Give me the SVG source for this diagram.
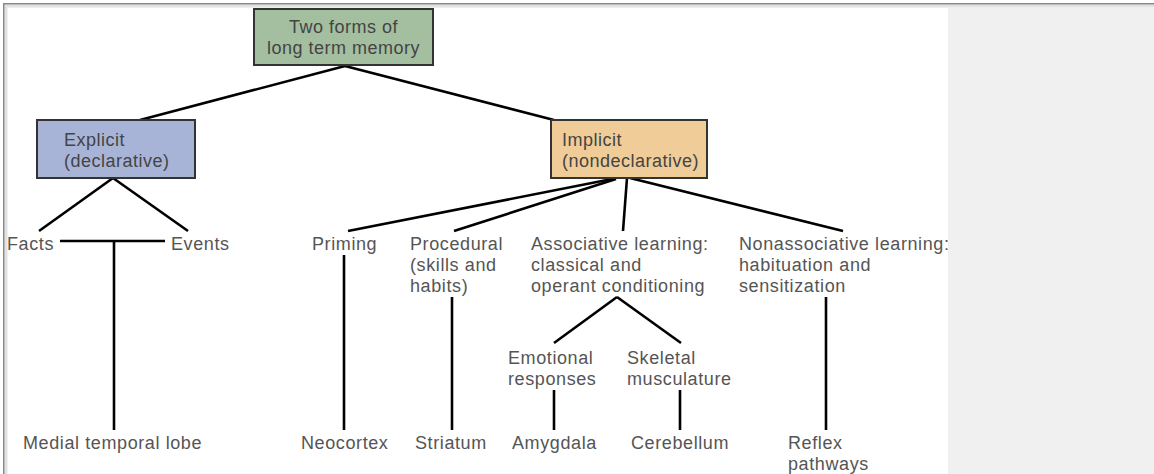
<svg xmlns="http://www.w3.org/2000/svg" width="1154" height="474" viewBox="0 0 1154 474">
<style>
.box{stroke:#333;stroke-width:2}
.bt{font-family:"Liberation Sans",Arial,sans-serif;font-size:18px;letter-spacing:0.5px;fill:#444}
.lb{font-family:"Liberation Sans",Arial,sans-serif;font-size:18px;letter-spacing:0.6px;fill:#555}
#connectors line{stroke:#000;stroke-width:2.6;stroke-linecap:butt}
</style>
<rect x="0" y="0" width="1154" height="474" fill="#fff"/>
<g id="connectors">
<line x1="345" y1="66" x2="140" y2="120"/>
<line x1="345" y1="66" x2="554" y2="120"/>
<line x1="113" y1="178" x2="39" y2="231"/>
<line x1="113" y1="178" x2="188" y2="231"/>
<line x1="60" y1="241" x2="165" y2="241"/>
<line x1="114" y1="241" x2="114" y2="430"/>
<line x1="612" y1="179" x2="348" y2="231"/>
<line x1="616" y1="179" x2="454" y2="231"/>
<line x1="627" y1="178" x2="623" y2="231"/>
<line x1="630" y1="178" x2="843" y2="231"/>
<line x1="344" y1="255" x2="344" y2="430"/>
<line x1="452" y1="297" x2="452" y2="430"/>
<line x1="617" y1="297" x2="554" y2="343"/>
<line x1="617" y1="297" x2="681" y2="343"/>
<line x1="554" y1="390" x2="554" y2="430"/>
<line x1="680" y1="390" x2="680" y2="430"/>
<line x1="826" y1="297" x2="826" y2="430"/>
</g>
<g id="root">
<rect class="box" x="254" y="9" width="179" height="56" fill="#a3bfa0"/>
<text class="bt" text-anchor="middle"><tspan x="343.5" y="33">Two forms of</tspan><tspan x="343.5" y="54">long term memory</tspan></text>
</g>
<g id="explicit">
<rect class="box" x="37" y="120" width="158" height="58" fill="#a7b4d8"/>
<text class="bt"><tspan x="64" y="146">Explicit</tspan><tspan x="64" y="167">(declarative)</tspan></text>
</g>
<g id="implicit">
<rect class="box" x="551" y="120" width="156" height="58" fill="#f0cc98"/>
<text class="bt"><tspan x="562" y="146">Implicit</tspan><tspan x="562" y="167">(nondeclarative)</tspan></text>
</g>
<g id="facts"><text class="lb" x="7" y="250">Facts</text></g>
<g id="events"><text class="lb" x="171" y="250">Events</text></g>
<g id="mtl"><text class="lb" x="23" y="449">Medial temporal lobe</text></g>
<g id="priming"><text class="lb" x="312" y="250">Priming</text></g>
<g id="neocortex"><text class="lb" x="301" y="449">Neocortex</text></g>
<g id="procedural">
<text class="lb"><tspan x="410" y="250">Procedural</tspan><tspan x="410" y="271">(skills and</tspan><tspan x="410" y="292">habits)</tspan></text>
</g>
<g id="striatum"><text class="lb" x="415" y="449">Striatum</text></g>
<g id="associative">
<text class="lb"><tspan x="531" y="250">Associative learning:</tspan><tspan x="531" y="271">classical and</tspan><tspan x="531" y="292">operant conditioning</tspan></text>
</g>
<g id="emotional">
<text class="lb"><tspan x="508" y="364">Emotional</tspan><tspan x="508" y="385">responses</tspan></text>
</g>
<g id="skeletal">
<text class="lb"><tspan x="627" y="364">Skeletal</tspan><tspan x="627" y="385">musculature</tspan></text>
</g>
<g id="amygdala"><text class="lb" x="512" y="449">Amygdala</text></g>
<g id="cerebellum"><text class="lb" x="631" y="449">Cerebellum</text></g>
<g id="nonassociative">
<text class="lb"><tspan x="739" y="250">Nonassociative learning:</tspan><tspan x="739" y="271">habituation and</tspan><tspan x="739" y="292">sensitization</tspan></text>
</g>
<g id="reflex">
<text class="lb"><tspan x="788" y="449">Reflex</tspan><tspan x="788" y="470">pathways</tspan></text>
</g>
<rect x="948" y="8" width="206" height="466" fill="#f0f0f0"/>
<rect x="4.5" y="4.5" width="1150" height="3" fill="#e2e2e2"/>
<rect x="4.5" y="4.5" width="3" height="470" fill="#e2e2e2"/>
<rect x="3" y="3" width="1151" height="1.5" fill="#888"/>
<rect x="3" y="3" width="1.5" height="471" fill="#888"/>
</svg>
